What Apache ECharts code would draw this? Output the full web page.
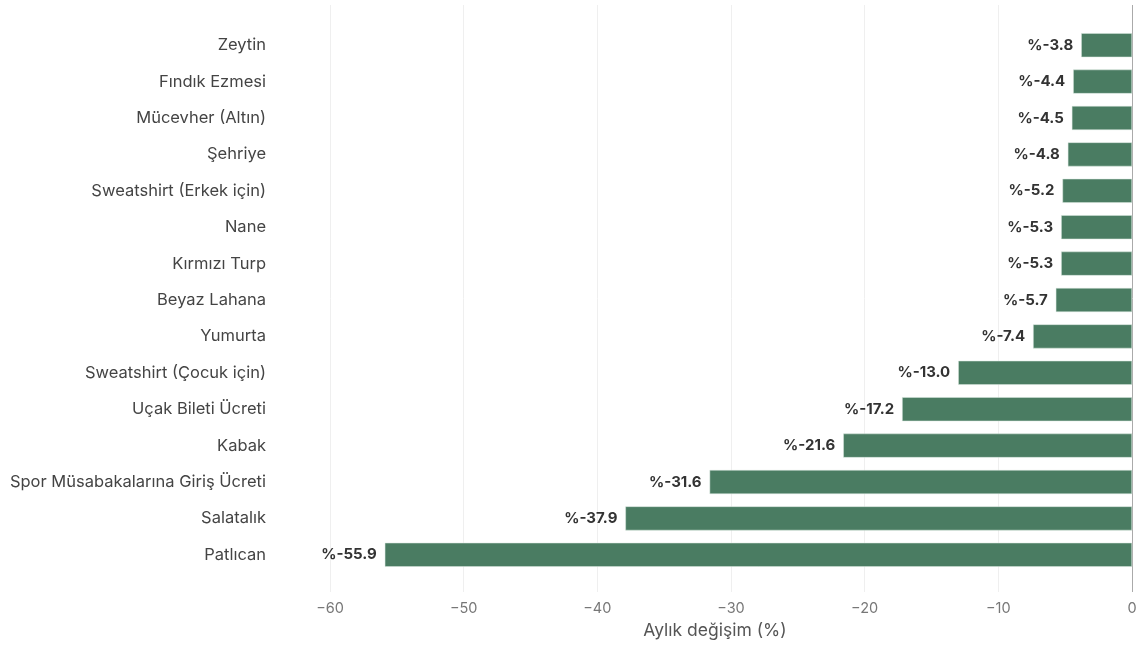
<!DOCTYPE html>
<html>
<head>
<meta charset="utf-8">
<script src="https://cdn.jsdelivr.net/npm/echarts@6/dist/echarts.min.js"></script>
<style>html,body{margin:0;padding:0;background:#fff}#c{width:1140px;height:649px}</style>
</head>
<body>
<div id="c"></div>
<script>
const categories = ["Zeytin","Fındık Ezmesi","Mücevher (Altın)","Şehriye","Sweatshirt (Erkek için)","Nane","Kırmızı Turp","Beyaz Lahana","Yumurta","Sweatshirt (Çocuk için)","Uçak Bileti Ücreti","Kabak","Spor Müsabakalarına Giriş Ücreti","Salatalık","Patlıcan"];
const values = [-3.8,-4.4,-4.5,-4.8,-5.2,-5.3,-5.3,-5.7,-7.4,-13.0,-17.2,-21.6,-31.6,-37.9,-55.9];
const xTicks = [-60,-50,-40,-30,-20,-10,0];
const axisTitle = "Aylık değişim (%)";

const FONT = "Inter";
const chart = echarts.init(document.getElementById('c'));
chart.setOption({
  animation: false,
  backgroundColor: '#fff',
  textStyle: { fontFamily: FONT },
  grid: [
    { left: 330, right: 8, top: 27, bottom: 76, containLabel: false },
    { left: 330, right: 8, top: 5, bottom: 57, containLabel: false }
  ],
  xAxis: [
    { gridIndex: 0, type: 'value', min: xTicks[0], max: xTicks[xTicks.length-1], interval: 10,
      axisLine:{show:false}, axisTick:{show:false}, axisLabel:{show:false}, splitLine:{show:false} },
    { gridIndex: 1, type: 'value', min: xTicks[0], max: xTicks[xTicks.length-1], interval: 10,
      axisLine:{show:false}, axisTick:{show:false},
      axisLabel:{ color:'#777', fontSize:14.5, fontFamily: FONT, margin: 9,
        formatter: v => String(v).replace('-', '\u2212') },
      splitLine:{ show:true, lineStyle:{ color:['#efefef','#efefef','#efefef','#efefef','#efefef','#efefef','#aaaaaa'], width:1 } },
      name: axisTitle, nameLocation:'middle', nameGap: 30,
      nameTextStyle:{ color:'#555', fontSize:17.5, fontFamily: FONT, padding:[0,32,0,0] } }
  ],
  yAxis: [
    { gridIndex: 0, type:'category', data: categories, inverse: true,
      axisLine:{show:false}, axisTick:{show:false},
      axisLabel:{ color:'#444', fontSize:16.5, fontFamily: FONT, margin: 64 } },
    { gridIndex: 1, type:'value', show:false }
  ],
  series: [{
    type:'bar', xAxisIndex:0, yAxisIndex:0, data: values, barWidth: 24,
    itemStyle:{ color:'#4a7c62', borderColor:'#d8e6de', borderWidth:0.5 },
    label:{ show:true, position:'left', distance:8, color:'#333', fontWeight:'bold', fontSize:15, fontFamily: FONT,
      formatter: p => '%' + p.value.toFixed(1) }
  }]
});
</script>
</body>
</html>
